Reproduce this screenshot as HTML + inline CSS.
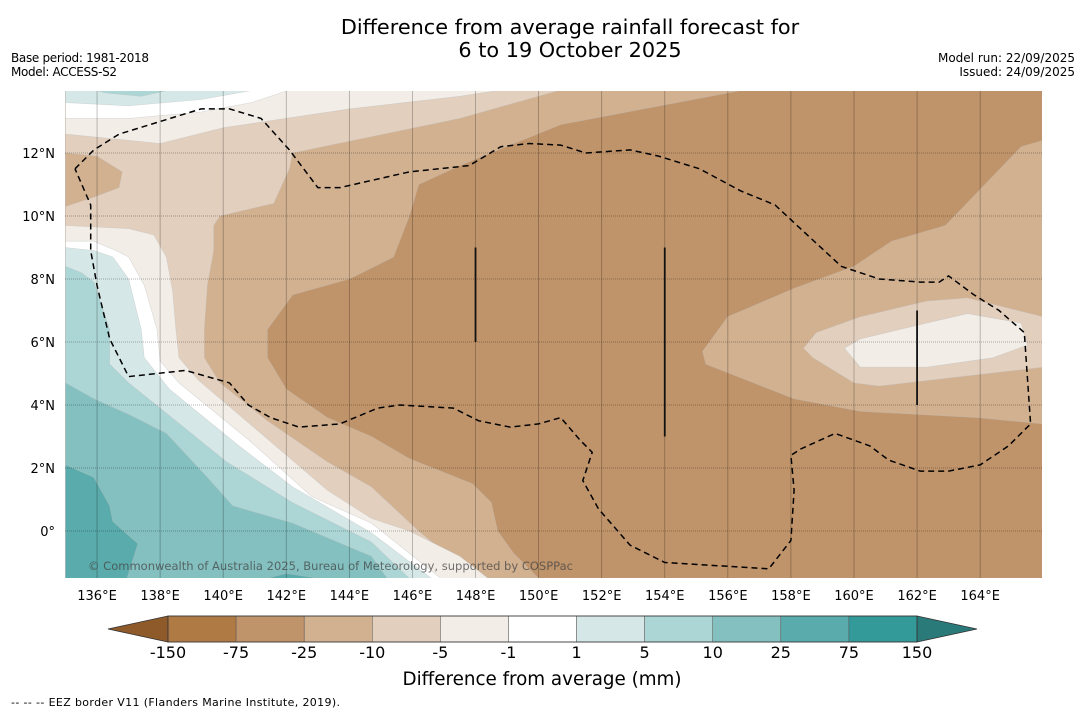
<!DOCTYPE html>
<html><head><meta charset="utf-8">
<style>
html,body{margin:0;padding:0;background:#fff;}
svg{display:block;font-family:"DejaVu Sans","Liberation Sans",sans-serif;}
</style></head>
<body>
<svg id="chart" width="1085" height="713" viewBox="0 0 1085 713">
  <text x="570" y="34" text-anchor="middle" font-size="20.8" fill="#000">Difference from average rainfall forecast for</text>
  <text x="570" y="57" text-anchor="middle" font-size="20.8" fill="#000">6 to 19 October 2025</text>
  <text x="11" y="62" font-size="12" textLength="138">Base period: 1981-2018</text>
  <text x="11" y="76" font-size="12" textLength="106">Model: ACCESS-S2</text>
  <text x="1075" y="62" font-size="12" text-anchor="end">Model run: 22/09/2025</text>
  <text x="1075" y="76" font-size="12" text-anchor="end">Issued: 24/09/2025</text>
  <defs><clipPath id="mapclip"><rect x="65" y="91" width="977" height="487"/></clipPath></defs>
  <g id="map" clip-path="url(#mapclip)"></g>
  <g id="axes"></g>
  <g id="cbar"></g>
  <text x="542" y="685" text-anchor="middle" font-size="18.3">Difference from average (mm)</text>
  <text x="11" y="706" font-size="11" textLength="329">--  --  -- EEZ border V11 (Flanders Marine Institute, 2019).</text>
</svg>
<script>
// contour polygons [lon, lat]
const brownRegion=[[156.5,14],[166,14],[166,12.4],[165.3,12.2],[162.9,9.7],[161.2,9.2],[160,8.4],[158.1,7.7],[156,6.8],[155.2,5.7],[155.3,5.3],[158.1,4.2],[160.2,3.8],[163.9,3.6],[166,3.4],[166,-1.5],[150,-1.5],[149.2,-0.7],[148.7,0],[148.5,0.9],[147.9,1.5],[145.9,2.3],[144.7,3],[143.3,3.6],[142,4.5],[141.4,5.5],[141.4,6.4],[142.2,7.5],[144,8],[145.4,8.7],[145.9,10],[146.2,11],[147.5,11.6],[150.7,12.9]];
const eastLight=[[162.3,7.3],[163.6,7.4],[166,6.8],[166,5.2],[163.4,4.9],[160.8,4.6],[160,4.7],[158.7,5.5],[158.4,5.8],[158.8,6.3],[160.2,6.8]];
const eastLighter=[[159.7,5.8],[160.2,6.1],[162.3,6.6],[163.6,6.9],[165.3,6.6],[165.5,5.9],[164.4,5.5],[162.3,5.2],[160.2,5.2]];
const westLight=[[135,14],[150.7,14],[147.5,13.1],[142.2,12],[142.1,11.5],[141.6,10.4],[139.9,10],[139.7,9.7],[139.7,8.9],[139.5,7.8],[139.4,6.4],[139.4,5.5],[139.9,4.7],[141.4,3.5],[143.3,2.2],[144.7,1.4],[146.2,0],[148,-1.5],[135,-1.5]];
const nwTan=[[135,12],[136,11.9],[136.8,11.4],[136.7,10.9],[135.9,10.6],[135,10.3]];
const topLighter=[[135,14],[148.8,14],[147.5,13.8],[144,13.4],[140,12.8],[138,12.3],[135,12.6]];
const topWhite=[[135,14],[142.1,14],[140.9,13.6],[139.3,13.3],[137,13.1],[135,13.1]];
const topTeal1=[[135,14],[141,14],[139.3,13.7],[137,13.5],[135,13.6]];
const topTeal2=[[135.9,14],[138.3,14],[137.4,13.8],[136.3,13.9]];
const westLighter=[[135,9.7],[137,9.6],[137.8,9.4],[138.2,8.7],[138.4,7.6],[138.5,6.4],[138.6,5.5],[139.2,4.8],[141.2,3.1],[143.3,1.3],[144.7,0.4],[145.9,0],[147.5,-0.8],[148.4,-1.5],[135,-1.5]];
const westWhite=[[135,9.2],[135.9,9.2],[136.6,8.9],[137,8.7],[137.5,7.8],[137.9,6.4],[138,5.4],[138.6,4.7],[140.8,2.9],[142.8,1.1],[144.7,0.25],[146.9,-1.5],[135,-1.5]];
const westTeal1=[[135,9],[135.9,8.9],[136.5,8.7],[137,8],[137.4,6.4],[137.5,5.5],[138.3,4.5],[140.5,2.7],[142.2,1.4],[144.7,-0.06],[146.6,-1.5],[135,-1.5]];
const westTeal2=[[135,8.4],[135.5,8.2],[135.9,7.9],[136.4,6.4],[136.4,5.3],[137,4.7],[138,3.9],[140.1,2.2],[142.2,0.9],[144.7,-0.35],[145.9,-1.5],[135,-1.5]];
const westTeal3=[[135,4.7],[135.9,4.2],[137,3.7],[138.2,3.1],[139.5,1.7],[140.3,0.8],[142.2,0.25],[144.7,-0.8],[145.2,-1.5],[135,-1.5]];
const westTeal4=[[135,2.1],[135.9,1.7],[136.4,0.8],[136.5,0.3],[137.3,-0.4],[136.95,-1.5],[135,-1.5]];
const southPatch=[[141.4,-1.5],[142,-1.35],[143,-1.5]];
const eezBorder=[[135.3,11.5],[135.9,12.1],[136.7,12.6],[138,13],[139.3,13.4],[140.2,13.4],[141.2,13.1],[142.1,12.1],[143,10.9],[143.7,10.9],[145.9,11.4],[147.8,11.6],[148.8,12.2],[149.7,12.3],[150.7,12.25],[151.5,12],[152.9,12.1],[153.8,11.9],[155.1,11.5],[156.4,10.8],[157.5,10.35],[158.3,9.6],[159.6,8.4],[160.8,8],[162.1,7.9],[162.7,7.9],[163,8.1],[163.8,7.5],[164.6,7],[165.4,6.3],[165.6,3.4],[164.9,2.7],[164,2.1],[163,1.9],[162.1,1.9],[161.1,2.25],[160.5,2.7],[159.4,3.1],[158.3,2.6],[158,2.4],[158.1,1.3],[158,-0.3],[157.3,-1.2],[154,-1],[152.9,-0.45],[151.9,0.7],[151.4,1.6],[151.7,2.5],[151.3,2.9],[150.7,3.6],[150,3.4],[149.1,3.3],[148.1,3.5],[147.3,3.9],[145.6,4],[144.9,3.9],[143.7,3.4],[142.4,3.3],[141.5,3.6],[140.8,4],[140.2,4.7],[138.8,5.1],[137,4.9],[136.4,6.1],[136,7.8],[135.8,8.9],[135.8,10.35],[135.3,11.5]];
const boundaryLines=[[148,9,6],[154,9,3],[162,7,4]];
const lonTicks=[136,138,140,142,144,146,148,150,152,154,156,158,160,162,164];
const latTicks=[12,10,8,6,4,2,0];
const cbLevels=["-150","-75","-25","-10","-5","-1","1","5","10","25","75","150"];
const cbColors=["#b07a45","#c0946a","#d2b190","#e3cfbd","#f2ede7","#ffffff","#d5e8e7","#acd5d5","#84c0c0","#5aabab","#339999"];

const NS="http://www.w3.org/2000/svg";
const X0=65.5,PXLON=31.54,Y0=531,PXLAT=31.5;
function xs(lon){return X0+(lon-135)*PXLON;}
function ys(lat){return Y0-lat*PXLAT;}
function pts(a){return a.map(p=>xs(p[0]).toFixed(1)+","+ys(p[1]).toFixed(1)).join(" ");}
const map=document.getElementById('map');
const axes=document.getElementById('axes');
const cbar=document.getElementById('cbar');
function mk(tag,attrs,parent){const e=document.createElementNS(NS,tag);for(const k in attrs)e.setAttribute(k,attrs[k]);parent.appendChild(e);return e;}

const bg=mk('rect',{x:65,y:91,width:977,height:487,fill:'#d2b190'},map);


const layers=[
 [brownRegion,'#c0946a','contour-minus-75-to-25'],
 [eastLight,'#e3cfbd','contour-east-minus-10-to-5'],
 [eastLighter,'#f2ede7','contour-east-minus-5-to-1'],
 [westLight,'#e3cfbd','contour-west-minus-10-to-5'],
 [nwTan,'#d2b190','contour-nw-minus-25-to-10'],
 [topLighter,'#f2ede7','contour-north-minus-5-to-1'],
 [topWhite,'#ffffff','contour-north-near-zero'],
 [topTeal1,'#d5e8e7','contour-north-1-to-5'],
 [topTeal2,'#acd5d5','contour-north-5-to-10'],
 [westLighter,'#f2ede7','contour-west-minus-5-to-1'],
 [westWhite,'#ffffff','contour-west-near-zero'],
 [westTeal1,'#d5e8e7','contour-west-1-to-5'],
 [westTeal2,'#acd5d5','contour-west-5-to-10'],
 [westTeal3,'#84c0c0','contour-west-10-to-25'],
 [westTeal4,'#5aabab','contour-west-25-to-75'],
 [southPatch,'#5aabab','contour-south-25-to-75']
];
layers.forEach(l=>{
  const p=mk('polygon',{points:pts(l[0]),fill:l[1],stroke:'#bdbdbd','stroke-width':0.6,'stroke-opacity':0.5},map);
  
  
});
lonTicks.forEach(lon=>{
  const g=mk('line',{x1:xs(lon),x2:xs(lon),y1:91,y2:578,stroke:'#000','stroke-opacity':0.3,'stroke-width':0.8},map);
  
  
  const t=mk('text',{x:xs(lon),y:600,'text-anchor':'middle','font-size':13},axes);
  t.textContent=lon+'°E';
  
  
});
latTicks.forEach(lat=>{
  const g=mk('line',{x1:65,x2:1042,y1:ys(lat),y2:ys(lat),stroke:'#000','stroke-opacity':0.4,'stroke-width':0.8,'stroke-dasharray':'1,1'},map);
  
  
  const t=mk('text',{x:55,y:ys(lat)+5,'text-anchor':'end','font-size':13},axes);
  t.textContent=lat===0?'0°':lat+'°N';
  
  
});
const eez=mk('polyline',{points:pts(eezBorder),fill:'none',stroke:'#000','stroke-width':1.5,'stroke-dasharray':'6,4'},map);


boundaryLines.forEach(b=>{
  const l=mk('line',{x1:xs(b[0]),x2:xs(b[0]),y1:ys(b[1]),y2:ys(b[2]),stroke:'#111','stroke-width':1.8},map);
  
  
});
const cr=mk('text',{x:88,y:570,'font-size':11.5,fill:'#444','fill-opacity':0.75,textLength:485},map);
cr.textContent='© Commonwealth of Australia 2025, Bureau of Meteorology, supported by COSPPac';



// colorbar
const CB0=168,CB1=917,CBY=616,CBH=26;
const w=(CB1-CB0)/cbColors.length;
const lt=mk('polygon',{points:`${CB0},${CBY} 108,${CBY+CBH/2} ${CB0},${CBY+CBH}`,fill:'#8f5a2a',stroke:'#333','stroke-width':0.8},cbar);


const rt=mk('polygon',{points:`${CB1},${CBY} 977,${CBY+CBH/2} ${CB1},${CBY+CBH}`,fill:'#2a7a7a',stroke:'#333','stroke-width':0.8},cbar);


cbColors.forEach((c,i)=>{
  const r=mk('rect',{x:CB0+i*w,y:CBY,width:w,height:CBH,fill:c,stroke:'#555','stroke-width':0.5},cbar);
  
  
});
mk('rect',{x:CB0,y:CBY,width:CB1-CB0,height:CBH,fill:'none',stroke:'#333','stroke-width':0.8},cbar);
cbLevels.forEach((s,i)=>{
  const t=mk('text',{x:CB0+i*w,y:658,'text-anchor':'middle','font-size':16},cbar);
  t.textContent=s;
  
  
});
</script>
</body></html>
